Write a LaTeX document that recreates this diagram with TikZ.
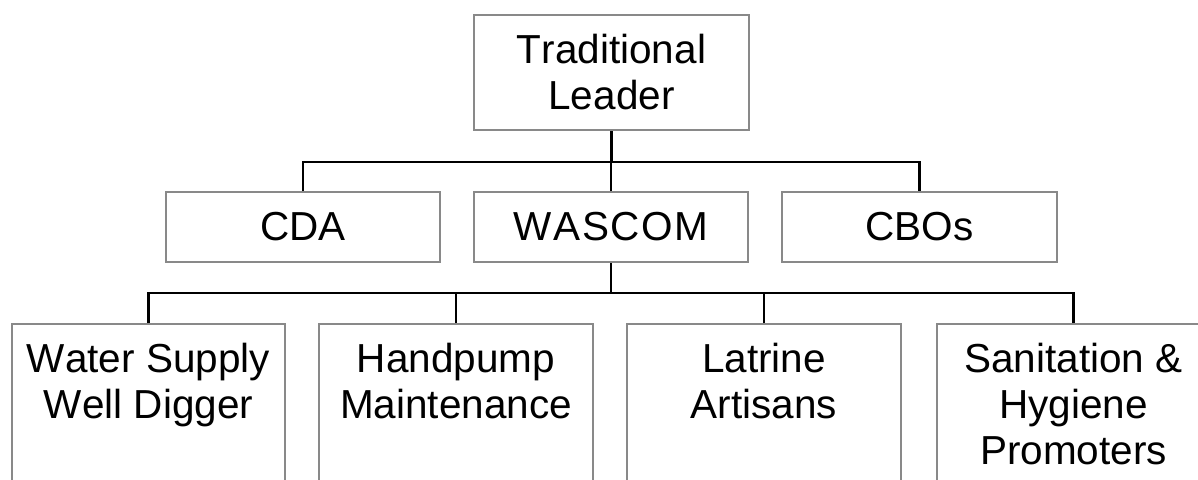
\documentclass[tikz,border=0pt]{standalone}
\usepackage{fontspec}
\setmainfont{Liberation Sans}[Kerning=Off]
\definecolor{boxgray}{RGB}{137,137,137}
\begin{document}
\begin{tikzpicture}[x=1pt,y=-1pt,
  box/.style={draw=boxgray, line width=2pt, fill=white, inner sep=0pt},
  link/.style={draw=black, line width=2.3pt},
  lbl/.style={font=\fontsize{40.5}{46}\selectfont, align=center, inner sep=0pt}]
\useasboundingbox (0,0) rectangle (1198,479);
\clip (0,0) rectangle (1198,479);

% levels of the two connector bars
\coordinate (barA) at (0,162);
\coordinate (barB) at (0,293);

% top and middle tiers
\node[box, lbl, minimum width=275pt, minimum height=115pt] (lead) at (611.5,72.5) {Traditional\\Leader};
\node[box, lbl, minimum width=274pt, minimum height=70pt] (cda) at (303,227) {CDA};
\node[box, lbl, minimum width=274pt, minimum height=70pt] (wascom) at (611,227)
  {W\kern1.5pt A\kern1.5pt S\kern1.5pt C\kern1.5pt O\kern1.5pt M};
\node[box, lbl, minimum width=275pt, minimum height=70pt] (cbos) at (919.5,227) {CBOs};

% bottom tier: tall boxes, text set at the top
\node[box, minimum width=273pt, minimum height=220pt, anchor=north] (well) at (148.5,323) {};
\node[box, minimum width=274pt, minimum height=220pt, anchor=north] (pump) at (456,323) {};
\node[box, minimum width=274pt, minimum height=220pt, anchor=north] (latr) at (764,323) {};
\node[box, minimum width=273pt, minimum height=220pt, anchor=north] (sani) at (1073.5,323) {};

\node[lbl, anchor=north] (wellt) at (148.5,342.5) {Water Supply\\Well Digger};
\node[lbl, anchor=north] (pumpt) at (456,342.5) {Handpump\\Maintenance};
\node[lbl, anchor=north] (latrt) at (764,342.5) {Latrine\\Artisans};
\node[lbl, anchor=north] (sanit) at (1073.5,342.5) {Sanitation \&\\Hygiene\\Promoters};

% connectors
\draw[link] (lead.south) -- (lead.south |- barA);
\draw[link] (cda.north) |- (cbos.north |- barA) -- (cbos.north);
\draw[link] (wascom.north) -- (wascom.north |- barA);
\draw[link] (wascom.south) -- (wascom.south |- barB);
\draw[link] (well.north) |- (sani.north |- barB) -- (sani.north);
\draw[link] (pump.north) -- (pump.north |- barB);
\draw[link] (latr.north) -- (latr.north |- barB);
\end{tikzpicture}
\end{document}
